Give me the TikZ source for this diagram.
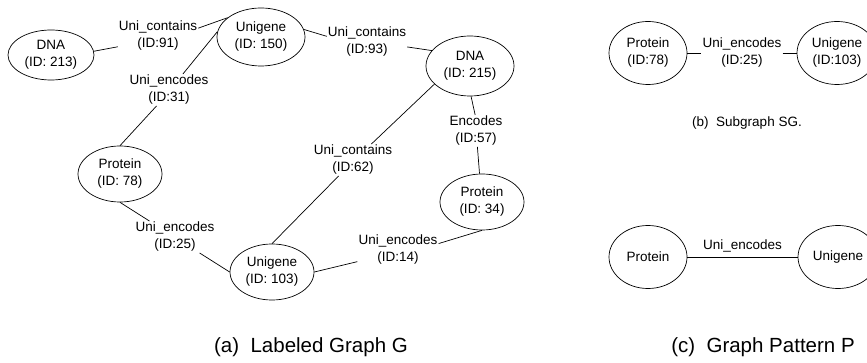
\documentclass[tikz,border=0pt]{standalone}
\usepackage{fontspec}
\setmainfont{Liberation Sans}
\usetikzlibrary{shapes.geometric}
\begin{document}
\begin{tikzpicture}[x=1pt,y=-1pt,
  ent/.style={draw, ellipse, line width=0.7pt, inner sep=0pt,
    minimum width=84pt, minimum height=56pt, align=center,
    font=\fontsize{13.5}{17}\selectfont},
  lbl/.style={inner sep=1pt, align=center, font=\fontsize{13.5}{17}\selectfont},
  link/.style={line width=0.7pt},
  bigcaption/.style={inner sep=0pt, font=\fontsize{20.5}{24}\selectfont},
  smallcaption/.style={inner sep=0pt, font=\fontsize{13.5}{17}\selectfont}]
\useasboundingbox (0,0) rectangle (867,363);

% (a) labeled graph G
\node[ent, minimum width=86pt, minimum height=50pt] (dna213) at (51,55) {DNA\\(ID: 213)};
\node[ent, minimum width=88pt, minimum height=58pt] (u150) at (261,37) {Unigene\\(ID: 150)};
\node[ent, minimum width=88pt, minimum height=60pt] (dna215) at (470,66) {DNA\\(ID: 215)};
\node[ent] (p78) at (120,174) {Protein\\(ID: 78)};
\node[ent] (p34) at (482,202) {Protein\\(ID: 34)};
\node[ent] (u103) at (272,272) {Unigene\\(ID: 103)};

\node[lbl] (l91) at (158,36) {Uni\_contains\\(ID:91)};
\node[lbl] (l93) at (367,42) {Uni\_contains\\(ID:93)};
\node[lbl] (l31) at (169,90) {Uni\_encodes\\(ID:31)};
\node[lbl] (l62) at (353,160) {Uni\_contains\\(ID:62)};
\node[lbl] (l57) at (476,131) {Encodes\\(ID:57)};
\node[lbl] (l25) at (175,237) {Uni\_encodes\\(ID:25)};
\node[lbl] (l14) at (398,250) {Uni\_encodes\\(ID:14)};

\draw[link] (dna213.5) -- (l91.195);
\draw[link] (l91.11) -- (u150.150);
\draw[link] (u150.173) -- (l31.49);
\draw[link] (l31.232) -- (p78.90);
\draw[link] (u150.10) -- (l93.172);
\draw[link] (l93.353) -- (dna215.158);
\draw[link] (dna215.207) -- (l62.41);
\draw[link] (l62.228) -- (u103.90);
\draw[link] (dna215.272) -- (l57.93);
\draw[link] (l57.275) -- (p34.95);
\draw[link] (p78.270) -- (l25.148);
\draw[link] (l25.327) -- (u103.180);
\draw[link] (u103.0) -- (l14.196);
\draw[link] (l14.9) -- (p34.270);

\node[bigcaption] (capa) at (311,347) {(a)\ \ Labeled Graph G};

% (b) subgraph SG
\node[ent, minimum width=78pt, minimum height=63pt] (pb) at (648,53) {Protein\\(ID:78)};
\node[ent, minimum width=80pt, minimum height=63pt] (ub) at (837,53) {Unigene\\(ID:103)};
\node[lbl] (lb) at (742,53) {Uni\_encodes\\(ID:25)};
\draw[link] (pb) -- (lb);
\draw[link] (lb) -- (ub);
\node[smallcaption] (capb) at (747,123) {(b)\ \ Subgraph SG.};

% (c) graph pattern P
\node[ent, minimum width=78pt, minimum height=63pt] (pc) at (648,257) {Protein};
\node[ent, minimum width=80pt, minimum height=63pt] (uc) at (838,257) {Unigene};
\draw[link] (pc) -- node[lbl, above=3pt] (lc) {Uni\_encodes} (uc);
\node[bigcaption] (capc) at (763,347) {(c)\ \ Graph Pattern P};
\end{tikzpicture}
\end{document}
